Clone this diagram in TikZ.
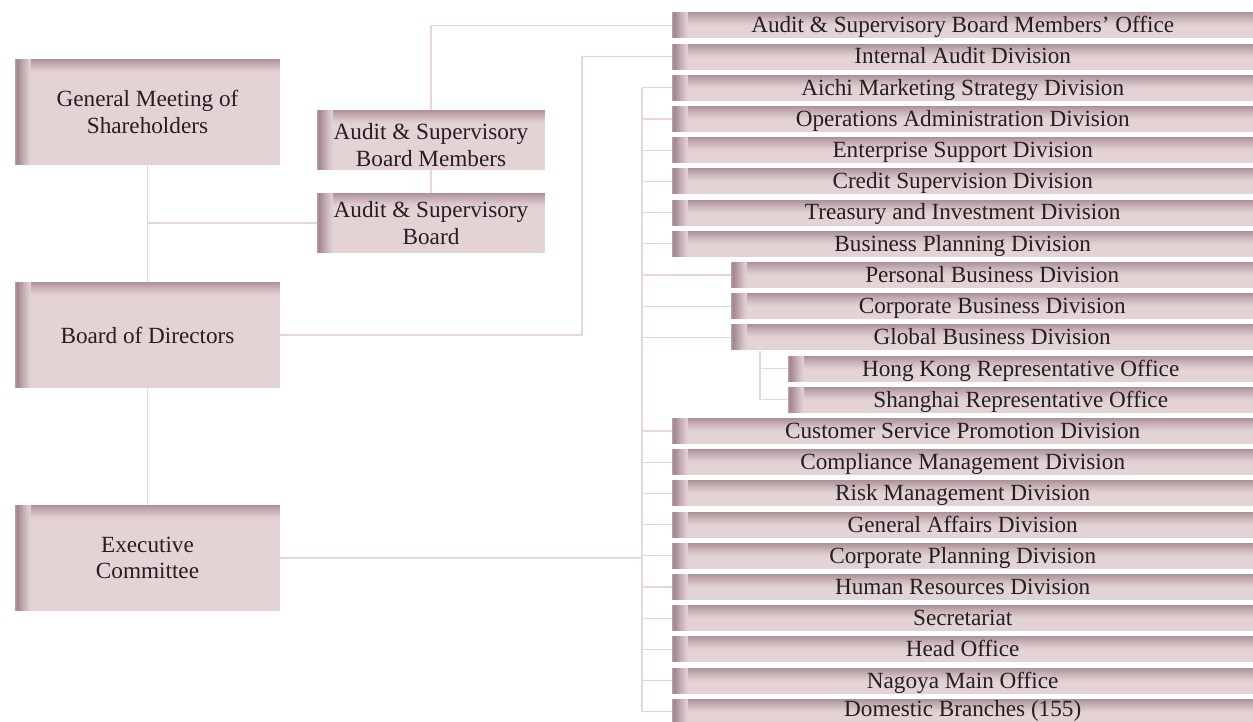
\documentclass[tikz,border=0pt]{standalone}
\usepackage{fontspec}
\setmainfont{Liberation Serif}
\definecolor{boxbase}{HTML}{E4D3D5}
\definecolor{boxdark}{HTML}{A2858F}
\definecolor{linec}{HTML}{E8D4D9}
\definecolor{txt}{HTML}{231F20}
\tikzset{
  obox/.style={rectangle, inner sep=0pt, fill=boxbase, text=txt, align=center,
    font=\fontsize{23.2}{26.7}\selectfont,
    path picture={
      \foreach \j in {0,...,13} {
        \pgfmathsetmacro\f{85*(1-\j/14)^1.3}
        \fill[boxdark!\f!boxbase]
          ([yshift={-\j pt}]path picture bounding box.north west) rectangle
          ([yshift={-\j pt-1.1pt}]path picture bounding box.north east);
      }
      \foreach \j in {0,...,15} {
        \pgfmathsetmacro\f{\j<2 ? 70+15*\j : 100*(1-(\j-2)/14)^1.2}
        \fill[boxdark!\f!boxbase]
          ([xshift={\j pt}]path picture bounding box.north west) rectangle
          ([xshift={\j pt+1.1pt}]path picture bounding box.south west);
      }
    }},
  bigbox/.style={obox, minimum width=265pt, minimum height=106pt},
  midbox/.style={obox, minimum width=228pt, minimum height=60pt},
  rowbox/.style={obox, minimum height=26pt, anchor=west, text height=16pt, text depth=1.2pt},
  lastrow/.style={text height=14pt, text depth=4.4pt},
  conn/.style={draw=linec, line width=1.3pt},
}
\begin{document}
\begin{tikzpicture}[x=1pt, y=-1pt]
\useasboundingbox (0,0) rectangle (1253,722);
% left column
\node[bigbox] (gm) at (147.5,112) {General Meeting of\\Shareholders};
\node[bigbox] (bod) at (147.5,335) {Board of Directors};
\node[bigbox] (ec) at (147.5,558) {Executive\\Committee};
\node[midbox] (asbm) at (431,140) {\rule{0pt}{26pt}Audit \& Supervisory\\Board Members};
\node[midbox] (asb) at (431,223) {Audit \& Supervisory\\Board};
% right column
\foreach \i/\k/\t in {
  0/0/{Audit \& Supervisory Board Members’ Office},
  1/0/{Internal Audit Division},
  2/0/{Aichi Marketing Strategy Division},
  3/0/{Operations Administration Division},
  4/0/{Enterprise Support Division},
  5/0/{Credit Supervision Division},
  6/0/{Treasury and Investment Division},
  7/0/{Business Planning Division},
  8/1/{Personal Business Division},
  9/1/{Corporate Business Division},
  10/1/{Global Business Division},
  11/2/{Hong Kong Representative Office},
  12/2/{Shanghai Representative Office},
  13/0/{Customer Service Promotion Division},
  14/0/{Compliance Management Division},
  15/0/{Risk Management Division},
  16/0/{General Affairs Division},
  17/0/{Corporate Planning Division},
  18/0/{Human Resources Division},
  19/0/{Secretariat},
  20/0/{Head Office},
  21/0/{Nagoya Main Office}}{
  \pgfmathsetmacro\lx{\k==0 ? 672 : (\k==1 ? 731 : 788)}
  \pgfmathsetmacro\yy{25.4+31.2*\i}
  \pgfmathsetmacro\ww{1253-\lx}
  \node[rowbox, minimum width=\ww pt] (r\i) at (\lx,\yy) {\t};
}
\node[rowbox, lastrow, minimum width=581pt] (r22) at (672,{25.4+31.2*22}) {Domestic Branches (155)};
% connectors
\coordinate (ia) at (582,0);
\coordinate (tr) at (642,0);
\coordinate (sb) at (760,0);
\draw[conn] (gm.south) -- (bod.north);
\draw[conn] (bod.south) -- (ec.north);
\draw[conn] (gm.south |- asb.west) -- (asb.west);
\draw[conn] (asbm.south) -- (asb.north);
\draw[conn] (asbm.north) |- (r0.west);
\draw[conn] (bod.east) -| (ia |- r1.west) -- (r1.west);
\draw[conn] (ec.east) -- (tr |- ec.east);
\draw[conn] (tr |- r2.west) -- (tr |- r22.west);
\foreach \i in {2,...,10,13,14,...,22} {
  \draw[conn] (tr |- r\i.west) -- (r\i.west);
}
\draw[conn] (sb |- r10.south) |- (r12.west);
\draw[conn] (sb |- r11.west) -- (r11.west);
\end{tikzpicture}
\end{document}
